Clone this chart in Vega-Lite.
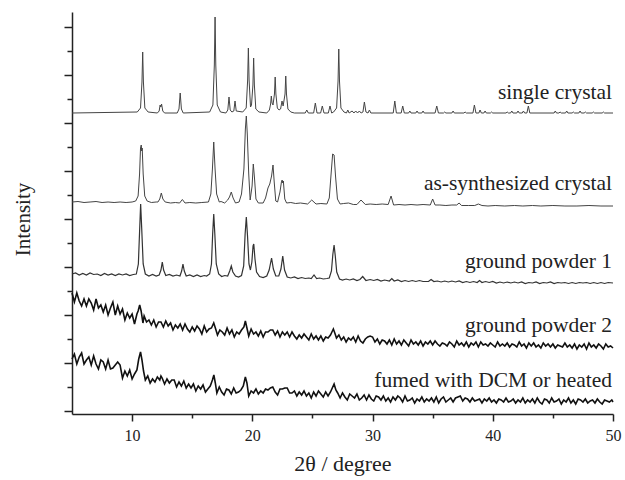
{
"$schema": "https://vega.github.io/schema/vega-lite/v6.json",
"autosize": "none",
"padding": {"left": 72, "top": 12, "right": 12, "bottom": 66},
"width": 541,
"height": 402,
"config": {"view": {"stroke": null}, "font": "Liberation Serif", "axis": {"labelFont": "Liberation Serif", "titleFont": "Liberation Serif"}, "text": {"font": "Liberation Serif"}},
"datasets": {
"labels": [
{"label": "single crystal", "x": 50, "y": 315.3},
{"label": "as-synthesized crystal", "x": 50, "y": 224.3},
{"label": "ground powder 1", "x": 50, "y": 145.7},
{"label": "ground powder 2", "x": 50, "y": 82.3},
{"label": "fumed with DCM or heated", "x": 50, "y": 27.3}
],
"sc": [
{"x":5.0,"y":301},{"x":10.43,"y":302},{"x":10.70,"y":306},{"x":10.82,"y":332},{"x":10.88,"y":362},{"x":10.94,"y":332},{"x":11.06,"y":306},{"x":11.33,"y":302},{"x":12.1,"y":301},{"x":12.25,"y":303},{"x":12.33,"y":309},{"x":12.39,"y":307},{"x":12.45,"y":310},{"x":12.55,"y":303},{"x":12.7,"y":301},{"x":13.75,"y":301},{"x":13.9,"y":305},{"x":14.0,"y":321},{"x":14.1,"y":305},{"x":14.25,"y":301},{"x":16.45,"y":302},{"x":16.72,"y":309},{"x":16.84,"y":349},{"x":16.9,"y":397},{"x":16.96,"y":349},{"x":17.08,"y":309},{"x":17.35,"y":302},{"x":17.8,"y":301},{"x":17.96,"y":304},{"x":18.06,"y":317},{"x":18.16,"y":304},{"x":18.3,"y":302},{"x":18.46,"y":303},{"x":18.56,"y":313},{"x":18.66,"y":303},{"x":19.2,"y":302},{"x":19.49,"y":306},{"x":19.61,"y":334},{"x":19.67,"y":366},{"x":19.73,"y":334},{"x":19.85,"y":307},{"x":19.93,"y":309},{"x":20.05,"y":329},{"x":20.11,"y":356},{"x":20.17,"y":329},{"x":20.29,"y":305},{"x":20.55,"y":302},{"x":21.2,"y":301},{"x":21.42,"y":304},{"x":21.52,"y":310},{"x":21.58,"y":318},{"x":21.64,"y":311},{"x":21.72,"y":309},{"x":21.84,"y":320},{"x":21.9,"y":337},{"x":21.96,"y":320},{"x":22.08,"y":306},{"x":22.22,"y":304},{"x":22.35,"y":305},{"x":22.47,"y":313},{"x":22.56,"y":308},{"x":22.72,"y":320},{"x":22.78,"y":338},{"x":22.84,"y":320},{"x":22.96,"y":305},{"x":23.2,"y":302},{"x":23.5,"y":301},{"x":24.4,"y":301},{"x":24.53,"y":304},{"x":24.66,"y":301},{"x":25.1,"y":301},{"x":25.24,"y":311},{"x":25.38,"y":301},{"x":25.68,"y":301},{"x":25.82,"y":308},{"x":25.96,"y":301},{"x":26.32,"y":301},{"x":26.46,"y":308},{"x":26.6,"y":301},{"x":26.76,"y":302},{"x":27.01,"y":306},{"x":27.13,"y":333},{"x":27.19,"y":365},{"x":27.25,"y":333},{"x":27.37,"y":306},{"x":27.62,"y":302},{"x":27.83,"y":301},{"x":27.94,"y":304},{"x":28.05,"y":301},{"x":28.3,"y":303},{"x":28.45,"y":301},{"x":28.6,"y":303},{"x":28.75,"y":301},{"x":28.9,"y":303},{"x":29.05,"y":301},{"x":29.2,"y":302},{"x":29.32,"y":312},{"x":29.45,"y":302},{"x":29.62,"y":301},{"x":29.74,"y":304},{"x":29.86,"y":301},{"x":31.72,"y":301},{"x":31.85,"y":313},{"x":31.98,"y":301},{"x":32.38,"y":301},{"x":32.51,"y":308},{"x":32.64,"y":301},{"x":33.0,"y":301},{"x":33.1,"y":303},{"x":33.2,"y":301},{"x":33.6,"y":301},{"x":33.7,"y":303},{"x":33.8,"y":301},{"x":34.1,"y":301},{"x":34.2,"y":303},{"x":34.3,"y":301},{"x":35.2,"y":301},{"x":35.34,"y":308},{"x":35.48,"y":301},{"x":35.9,"y":301},{"x":36.0,"y":302},{"x":36.1,"y":301},{"x":36.6,"y":301},{"x":36.7,"y":303},{"x":36.8,"y":301},{"x":37.6,"y":301},{"x":37.7,"y":302},{"x":37.8,"y":301},{"x":38.35,"y":301},{"x":38.47,"y":309},{"x":38.6,"y":301},{"x":38.84,"y":301},{"x":38.94,"y":304},{"x":39.05,"y":301},{"x":39.26,"y":301},{"x":39.36,"y":303},{"x":39.46,"y":301},{"x":39.8,"y":301},{"x":39.9,"y":302},{"x":40.0,"y":301},{"x":41.1,"y":301},{"x":41.2,"y":302},{"x":41.3,"y":301},{"x":41.48,"y":301},{"x":41.58,"y":303},{"x":41.68,"y":301},{"x":42.0,"y":301},{"x":42.1,"y":303},{"x":42.2,"y":301},{"x":42.45,"y":301},{"x":42.55,"y":303},{"x":42.65,"y":301},{"x":42.84,"y":301},{"x":42.96,"y":308},{"x":43.08,"y":301},{"x":45.1,"y":301},{"x":45.2,"y":303},{"x":45.3,"y":301},{"x":45.5,"y":301},{"x":45.6,"y":302},{"x":45.7,"y":301},{"x":46.05,"y":301},{"x":46.15,"y":303},{"x":46.25,"y":301},{"x":46.6,"y":301},{"x":46.7,"y":302},{"x":46.8,"y":301},{"x":47.16,"y":301},{"x":47.26,"y":303},{"x":47.36,"y":301},{"x":47.6,"y":301},{"x":47.7,"y":302},{"x":47.8,"y":301},{"x":48.27,"y":301},{"x":48.37,"y":302},{"x":48.47,"y":301},{"x":49.1,"y":301},{"x":49.2,"y":302},{"x":49.3,"y":301},{"x":50.0,"y":301}
],
"as": [
{"x":5.0,"y":212},{"x":5.5,"y":212.5},{"x":6.0,"y":211.5},{"x":6.5,"y":212},{"x":7.0,"y":212.5},{"x":7.5,"y":211.5},{"x":8.0,"y":212},{"x":8.5,"y":211.5},{"x":9.0,"y":212},{"x":9.5,"y":211.5},{"x":10.0,"y":212},{"x":10.3,"y":213},{"x":10.5,"y":218},{"x":10.62,"y":240},{"x":10.7,"y":266},{"x":10.76,"y":269},{"x":10.8,"y":263},{"x":10.84,"y":266},{"x":10.92,"y":240},{"x":11.05,"y":218},{"x":11.25,"y":213},{"x":11.6,"y":211.5},{"x":12.0,"y":212},{"x":12.15,"y":212},{"x":12.3,"y":215},{"x":12.43,"y":221},{"x":12.56,"y":215},{"x":12.75,"y":212},{"x":13.2,"y":211},{"x":13.6,"y":211.5},{"x":13.95,"y":211},{"x":14.18,"y":214.5},{"x":14.4,"y":211},{"x":14.8,"y":211.5},{"x":15.3,"y":211},{"x":15.8,"y":211.5},{"x":16.35,"y":212},{"x":16.55,"y":220},{"x":16.68,"y":245},{"x":16.79,"y":272},{"x":16.9,"y":245},{"x":17.03,"y":220},{"x":17.25,"y":212},{"x":17.4,"y":212.5},{"x":17.7,"y":211},{"x":17.95,"y":214},{"x":18.1,"y":217},{"x":18.25,"y":222},{"x":18.4,"y":216},{"x":18.6,"y":211},{"x":18.9,"y":212},{"x":19.1,"y":220},{"x":19.3,"y":245},{"x":19.42,"y":285},{"x":19.5,"y":298},{"x":19.58,"y":280},{"x":19.7,"y":240},{"x":19.82,"y":214},{"x":19.98,"y":228},{"x":20.08,"y":250},{"x":20.18,"y":236},{"x":20.3,"y":215},{"x":20.5,"y":211},{"x":20.9,"y":211},{"x":21.1,"y":216},{"x":21.3,"y":226},{"x":21.45,"y":230},{"x":21.6,"y":238},{"x":21.72,"y":249},{"x":21.82,"y":232},{"x":21.95,"y":213},{"x":22.1,"y":212},{"x":22.3,"y":222},{"x":22.42,"y":232},{"x":22.48,"y":234},{"x":22.53,"y":231},{"x":22.58,"y":233},{"x":22.7,"y":215},{"x":22.85,"y":211},{"x":23.2,"y":211.5},{"x":23.6,"y":210.5},{"x":24.0,"y":211},{"x":24.6,"y":210},{"x":24.94,"y":214},{"x":25.3,"y":210},{"x":25.7,"y":210.5},{"x":26.2,"y":210},{"x":26.4,"y":216},{"x":26.55,"y":240},{"x":26.68,"y":260},{"x":26.8,"y":259},{"x":26.92,"y":238},{"x":27.08,"y":215},{"x":27.3,"y":210},{"x":27.6,"y":210.5},{"x":28.0,"y":211},{"x":28.4,"y":209.5},{"x":28.7,"y":209.5},{"x":29.04,"y":214},{"x":29.4,"y":209.5},{"x":29.8,"y":210},{"x":30.3,"y":209.5},{"x":30.8,"y":210},{"x":31.3,"y":209.5},{"x":31.54,"y":218},{"x":31.75,"y":209},{"x":32.2,"y":209.5},{"x":32.7,"y":209},{"x":33.2,"y":209.5},{"x":33.7,"y":209},{"x":34.2,"y":209.5},{"x":34.8,"y":209},{"x":35.0,"y":215},{"x":35.2,"y":209},{"x":35.6,"y":209},{"x":36.1,"y":208.5},{"x":36.6,"y":209},{"x":37.0,"y":209},{"x":37.2,"y":211},{"x":37.4,"y":208.5},{"x":38.0,"y":208.5},{"x":38.5,"y":208.5},{"x":38.8,"y":210},{"x":39.1,"y":208.5},{"x":39.6,"y":208},{"x":40.2,"y":208.5},{"x":41.0,"y":208},{"x":41.8,"y":208.5},{"x":42.5,"y":208},{"x":43.3,"y":208.5},{"x":44.0,"y":208},{"x":45.0,"y":208.5},{"x":46.0,"y":208},{"x":47.0,"y":208},{"x":48.0,"y":208.5},{"x":49.0,"y":208},{"x":50.0,"y":208}
],
"g1": [
{"x":5.0,"y":140},{"x":5.3,"y":141},{"x":5.6,"y":139},{"x":5.9,"y":140.5},{"x":6.2,"y":139},{"x":6.5,"y":141},{"x":6.8,"y":139.5},{"x":7.1,"y":140},{"x":7.4,"y":138.5},{"x":7.7,"y":140.5},{"x":8.0,"y":139},{"x":8.3,"y":140},{"x":8.6,"y":138.5},{"x":8.9,"y":140},{"x":9.2,"y":139},{"x":9.5,"y":140},{"x":9.8,"y":138.5},{"x":10.1,"y":139.5},{"x":10.35,"y":140},{"x":10.52,"y":150},{"x":10.63,"y":185},{"x":10.71,"y":210},{"x":10.8,"y":185},{"x":10.92,"y":150},{"x":11.1,"y":140},{"x":11.4,"y":138},{"x":11.7,"y":139.5},{"x":12.0,"y":138},{"x":12.25,"y":139},{"x":12.4,"y":144},{"x":12.51,"y":152},{"x":12.62,"y":144},{"x":12.8,"y":138.5},{"x":13.1,"y":139.5},{"x":13.4,"y":138},{"x":13.7,"y":139},{"x":13.98,"y":138},{"x":14.12,"y":143},{"x":14.23,"y":150},{"x":14.34,"y":143},{"x":14.5,"y":138},{"x":14.8,"y":139},{"x":15.1,"y":137.5},{"x":15.4,"y":139},{"x":15.7,"y":137.5},{"x":16.0,"y":138.5},{"x":16.2,"y":138},{"x":16.45,"y":140},{"x":16.6,"y":150},{"x":16.7,"y":180},{"x":16.79,"y":200},{"x":16.88,"y":180},{"x":17.0,"y":150},{"x":17.2,"y":140},{"x":17.45,"y":137.5},{"x":17.7,"y":138.5},{"x":17.95,"y":138},{"x":18.12,"y":143},{"x":18.25,"y":148},{"x":18.38,"y":142},{"x":18.6,"y":138},{"x":18.85,"y":137},{"x":19.1,"y":138.5},{"x":19.28,"y":148},{"x":19.4,"y":180},{"x":19.5,"y":197},{"x":19.6,"y":178},{"x":19.72,"y":150},{"x":19.84,"y":144},{"x":19.96,"y":152},{"x":20.06,"y":168},{"x":20.12,"y":170},{"x":20.22,"y":155},{"x":20.35,"y":142},{"x":20.6,"y":137.5},{"x":20.9,"y":136.5},{"x":21.2,"y":138},{"x":21.4,"y":144},{"x":21.6,"y":156},{"x":21.75,"y":145},{"x":21.95,"y":138},{"x":22.2,"y":138},{"x":22.38,"y":145},{"x":22.53,"y":158},{"x":22.68,"y":144},{"x":22.9,"y":137},{"x":23.2,"y":136},{"x":23.5,"y":137},{"x":23.8,"y":135.5},{"x":24.1,"y":136.5},{"x":24.4,"y":135.5},{"x":24.7,"y":136},{"x":24.9,"y":135.5},{"x":25.13,"y":139},{"x":25.35,"y":135.5},{"x":25.6,"y":136},{"x":25.9,"y":135},{"x":26.2,"y":135.5},{"x":26.4,"y":136},{"x":26.58,"y":143},{"x":26.7,"y":160},{"x":26.8,"y":169},{"x":26.9,"y":158},{"x":27.02,"y":142},{"x":27.25,"y":135},{"x":27.5,"y":134},{"x":27.8,"y":135},{"x":28.1,"y":134},{"x":28.4,"y":135},{"x":28.7,"y":133.5},{"x":28.95,"y":134.5},{"x":29.18,"y":137.5},{"x":29.45,"y":133.5},{"x":29.8,"y":134.5},{"x":30.1,"y":133.5},{"x":30.4,"y":134.5},{"x":30.7,"y":133},{"x":31.0,"y":134},{"x":31.4,"y":133},{"x":31.6,"y":135.5},{"x":31.8,"y":133},{"x":32.1,"y":134},{"x":32.4,"y":132.5},{"x":32.7,"y":133.5},{"x":33.0,"y":132.5},{"x":33.3,"y":133.5},{"x":33.6,"y":132.5},{"x":33.9,"y":133.5},{"x":34.2,"y":132.5},{"x":34.65,"y":132.5},{"x":34.87,"y":134.5},{"x":35.1,"y":132.5},{"x":35.4,"y":133},{"x":35.7,"y":132},{"x":36.0,"y":133},{"x":36.3,"y":132},{"x":36.6,"y":133},{"x":36.9,"y":132},{"x":37.2,"y":133},{"x":37.5,"y":131.5},{"x":37.8,"y":132.5},{"x":38.1,"y":131.5},{"x":38.4,"y":132.5},{"x":38.7,"y":131.5},{"x":38.9,"y":133.5},{"x":39.1,"y":131.5},{"x":39.4,"y":132.5},{"x":39.7,"y":131.5},{"x":40.0,"y":132.5},{"x":40.3,"y":131},{"x":40.6,"y":132},{"x":40.9,"y":131},{"x":41.2,"y":132},{"x":41.5,"y":131},{"x":41.8,"y":132},{"x":42.1,"y":131},{"x":42.4,"y":132},{"x":42.7,"y":130.5},{"x":43.0,"y":131.5},{"x":43.3,"y":131},{"x":43.6,"y":132},{"x":43.9,"y":130.5},{"x":44.2,"y":131.5},{"x":44.5,"y":131},{"x":44.8,"y":132},{"x":45.1,"y":130.5},{"x":45.4,"y":131.5},{"x":45.7,"y":131},{"x":46.0,"y":131.5},{"x":46.3,"y":130.5},{"x":46.6,"y":131.5},{"x":46.9,"y":130.5},{"x":47.2,"y":131.5},{"x":47.5,"y":131},{"x":47.8,"y":131.5},{"x":48.1,"y":130.5},{"x":48.4,"y":131.5},{"x":48.7,"y":130.5},{"x":49.0,"y":131.5},{"x":49.3,"y":130.5},{"x":49.6,"y":131.5},{"x":50.0,"y":131}
],
"g2": [
{"x":5.0,"y":121},{"x":5.2,"y":112},{"x":5.4,"y":121},{"x":5.6,"y":113},{"x":5.8,"y":108},{"x":6.0,"y":115},{"x":6.2,"y":108},{"x":6.4,"y":115},{"x":6.6,"y":111},{"x":6.8,"y":104},{"x":7.0,"y":115},{"x":7.2,"y":106},{"x":7.4,"y":109},{"x":7.6,"y":102},{"x":7.8,"y":109},{"x":8.0,"y":99},{"x":8.2,"y":106},{"x":8.4,"y":112},{"x":8.6,"y":99},{"x":8.8,"y":108},{"x":9.0,"y":100},{"x":9.2,"y":105},{"x":9.4,"y":94},{"x":9.6,"y":101},{"x":9.8,"y":96},{"x":10.0,"y":100},{"x":10.2,"y":90},{"x":10.4,"y":100},{"x":10.5,"y":103},{"x":10.63,"y":109},{"x":10.75,"y":103},{"x":10.9,"y":91},{"x":11.0,"y":98},{"x":11.2,"y":92},{"x":11.4,"y":94},{"x":11.6,"y":89},{"x":11.8,"y":94},{"x":12.0,"y":87},{"x":12.2,"y":92},{"x":12.4,"y":92},{"x":12.6,"y":87},{"x":12.8,"y":93},{"x":13.0,"y":88},{"x":13.2,"y":91},{"x":13.4,"y":84},{"x":13.6,"y":89},{"x":13.8,"y":86},{"x":14.0,"y":90},{"x":14.2,"y":84},{"x":14.4,"y":90},{"x":14.6,"y":85},{"x":14.8,"y":82},{"x":15.0,"y":87},{"x":15.2,"y":83},{"x":15.4,"y":88},{"x":15.6,"y":85},{"x":15.8,"y":80},{"x":16.0,"y":88},{"x":16.2,"y":82},{"x":16.4,"y":85},{"x":16.6,"y":86},{"x":16.79,"y":91},{"x":16.95,"y":85},{"x":17.1,"y":79},{"x":17.3,"y":84},{"x":17.5,"y":82},{"x":17.7,"y":79},{"x":17.9,"y":86},{"x":18.1,"y":80},{"x":18.3,"y":84},{"x":18.5,"y":77},{"x":18.7,"y":82},{"x":18.9,"y":80},{"x":19.1,"y":84},{"x":19.3,"y":87},{"x":19.42,"y":93},{"x":19.55,"y":86},{"x":19.7,"y":78},{"x":19.9,"y":85},{"x":20.1,"y":80},{"x":20.3,"y":82},{"x":20.5,"y":78},{"x":20.7,"y":83},{"x":20.9,"y":77},{"x":21.1,"y":82},{"x":21.3,"y":82},{"x":21.5,"y":84},{"x":21.7,"y":84},{"x":21.9,"y":79},{"x":22.1,"y":83},{"x":22.3,"y":77},{"x":22.5,"y":82},{"x":22.7,"y":79},{"x":22.9,"y":82},{"x":23.1,"y":77},{"x":23.3,"y":82},{"x":23.5,"y":78},{"x":23.7,"y":75},{"x":23.9,"y":79},{"x":24.1,"y":76},{"x":24.3,"y":80},{"x":24.5,"y":77},{"x":24.7,"y":74},{"x":24.9,"y":80},{"x":25.1,"y":75},{"x":25.3,"y":78},{"x":25.5,"y":74},{"x":25.7,"y":78},{"x":25.9,"y":73},{"x":26.1,"y":77},{"x":26.3,"y":76},{"x":26.5,"y":79},{"x":26.62,"y":82},{"x":26.74,"y":85},{"x":26.86,"y":81},{"x":27.0,"y":76},{"x":27.2,"y":79},{"x":27.4,"y":74},{"x":27.6,"y":77},{"x":27.8,"y":72},{"x":28.0,"y":76},{"x":28.2,"y":74},{"x":28.4,"y":77},{"x":28.6,"y":72},{"x":28.8,"y":78},{"x":29.0,"y":73},{"x":29.2,"y":71},{"x":29.4,"y":75},{"x":29.6,"y":77},{"x":29.8,"y":78},{"x":30.0,"y":77},{"x":30.2,"y":72},{"x":30.4,"y":75},{"x":30.6,"y":70},{"x":30.8,"y":74},{"x":31.0,"y":73},{"x":31.2,"y":70},{"x":31.4,"y":74},{"x":31.6,"y":69},{"x":31.8,"y":75},{"x":32.0,"y":70},{"x":32.2,"y":73},{"x":32.4,"y":69},{"x":32.6,"y":74},{"x":32.8,"y":71},{"x":33.0,"y":68},{"x":33.2,"y":74},{"x":33.4,"y":70},{"x":33.6,"y":72},{"x":33.8,"y":69},{"x":34.0,"y":73},{"x":34.2,"y":68},{"x":34.4,"y":72},{"x":34.6,"y":70},{"x":34.8,"y":73},{"x":35.0,"y":69},{"x":35.2,"y":73},{"x":35.4,"y":70},{"x":35.6,"y":68},{"x":35.8,"y":71},{"x":36.0,"y":70},{"x":36.2,"y":68},{"x":36.4,"y":72},{"x":36.6,"y":70},{"x":36.8,"y":67},{"x":37.0,"y":73},{"x":37.2,"y":69},{"x":37.4,"y":71},{"x":37.6,"y":68},{"x":37.8,"y":72},{"x":38.0,"y":67},{"x":38.2,"y":71},{"x":38.4,"y":69},{"x":38.6,"y":72},{"x":38.8,"y":67},{"x":39.0,"y":72},{"x":39.2,"y":69},{"x":39.4,"y":70},{"x":39.6,"y":68},{"x":39.8,"y":71},{"x":40.0,"y":69},{"x":40.2,"y":67},{"x":40.4,"y":72},{"x":40.6,"y":68},{"x":40.8,"y":70},{"x":41.0,"y":68},{"x":41.2,"y":71},{"x":41.4,"y":67},{"x":41.6,"y":70},{"x":41.8,"y":69},{"x":42.0,"y":67},{"x":42.2,"y":72},{"x":42.4,"y":68},{"x":42.6,"y":70},{"x":42.8,"y":66},{"x":43.0,"y":71},{"x":43.2,"y":68},{"x":43.4,"y":71},{"x":43.6,"y":67},{"x":43.8,"y":69},{"x":44.0,"y":66},{"x":44.2,"y":71},{"x":44.4,"y":68},{"x":44.6,"y":70},{"x":44.8,"y":67},{"x":45.0,"y":70},{"x":45.2,"y":66},{"x":45.4,"y":69},{"x":45.6,"y":68},{"x":45.8,"y":67},{"x":46.0,"y":71},{"x":46.2,"y":67},{"x":46.4,"y":69},{"x":46.6,"y":66},{"x":46.8,"y":70},{"x":47.0,"y":65},{"x":47.2,"y":69},{"x":47.4,"y":67},{"x":47.6,"y":70},{"x":47.8,"y":65},{"x":48.0,"y":71},{"x":48.2,"y":67},{"x":48.4,"y":69},{"x":48.6,"y":66},{"x":48.8,"y":70},{"x":49.0,"y":68},{"x":49.2,"y":65},{"x":49.4,"y":70},{"x":49.6,"y":67},{"x":49.8,"y":68},{"x":50.0,"y":66}
],
"fu": [
{"x":5.0,"y":55},{"x":5.2,"y":60},{"x":5.4,"y":50},{"x":5.6,"y":57},{"x":5.8,"y":61},{"x":6.0,"y":50},{"x":6.2,"y":54},{"x":6.4,"y":57},{"x":6.6,"y":49},{"x":6.8,"y":58},{"x":7.0,"y":50},{"x":7.2,"y":45},{"x":7.4,"y":54},{"x":7.6,"y":52},{"x":7.8,"y":45},{"x":8.0,"y":54},{"x":8.2,"y":45},{"x":8.4,"y":46},{"x":8.6,"y":49},{"x":8.8,"y":52},{"x":9.0,"y":49},{"x":9.2,"y":36},{"x":9.4,"y":43},{"x":9.6,"y":38},{"x":9.8,"y":44},{"x":10.0,"y":35},{"x":10.2,"y":40},{"x":10.4,"y":44},{"x":10.55,"y":55},{"x":10.7,"y":62},{"x":10.82,"y":54},{"x":10.95,"y":43},{"x":11.1,"y":34},{"x":11.3,"y":38},{"x":11.5,"y":31},{"x":11.7,"y":35},{"x":11.9,"y":32},{"x":12.1,"y":37},{"x":12.3,"y":34},{"x":12.4,"y":38},{"x":12.5,"y":36},{"x":12.7,"y":30},{"x":12.9,"y":35},{"x":13.1,"y":31},{"x":13.3,"y":34},{"x":13.5,"y":34},{"x":13.7,"y":27},{"x":13.9,"y":32},{"x":14.1,"y":28},{"x":14.3,"y":33},{"x":14.5,"y":26},{"x":14.7,"y":30},{"x":14.9,"y":26},{"x":15.1,"y":30},{"x":15.3,"y":23},{"x":15.5,"y":28},{"x":15.7,"y":25},{"x":15.9,"y":29},{"x":16.1,"y":22},{"x":16.3,"y":25},{"x":16.5,"y":28},{"x":16.68,"y":34},{"x":16.8,"y":39},{"x":16.92,"y":31},{"x":17.05,"y":21},{"x":17.25,"y":27},{"x":17.45,"y":22},{"x":17.65,"y":19},{"x":17.85,"y":25},{"x":18.05,"y":24},{"x":18.25,"y":20},{"x":18.45,"y":26},{"x":18.65,"y":21},{"x":18.85,"y":22},{"x":19.05,"y":24},{"x":19.25,"y":28},{"x":19.42,"y":37},{"x":19.55,"y":31},{"x":19.7,"y":18},{"x":19.9,"y":23},{"x":20.1,"y":21},{"x":20.3,"y":25},{"x":20.5,"y":20},{"x":20.7,"y":23},{"x":20.9,"y":21},{"x":21.1,"y":25},{"x":21.3,"y":24},{"x":21.5,"y":26},{"x":21.7,"y":27},{"x":21.9,"y":22},{"x":22.1,"y":19},{"x":22.3,"y":25},{"x":22.5,"y":25},{"x":22.7,"y":26},{"x":22.9,"y":26},{"x":23.1,"y":21},{"x":23.3,"y":21},{"x":23.5,"y":23},{"x":23.7,"y":18},{"x":23.9,"y":22},{"x":24.1,"y":19},{"x":24.3,"y":23},{"x":24.5,"y":18},{"x":24.7,"y":21},{"x":24.9,"y":16},{"x":25.1,"y":22},{"x":25.3,"y":18},{"x":25.5,"y":23},{"x":25.7,"y":20},{"x":25.9,"y":17},{"x":26.1,"y":22},{"x":26.3,"y":18},{"x":26.5,"y":22},{"x":26.65,"y":26},{"x":26.8,"y":30},{"x":26.95,"y":24},{"x":27.1,"y":21},{"x":27.3,"y":16},{"x":27.5,"y":21},{"x":27.7,"y":17},{"x":27.9,"y":14},{"x":28.1,"y":20},{"x":28.3,"y":18},{"x":28.5,"y":16},{"x":28.7,"y":20},{"x":28.9,"y":14},{"x":29.1,"y":16},{"x":29.3,"y":19},{"x":29.5,"y":14},{"x":29.7,"y":19},{"x":29.9,"y":15},{"x":30.1,"y":13},{"x":30.3,"y":18},{"x":30.5,"y":17},{"x":30.7,"y":14},{"x":30.9,"y":18},{"x":31.1,"y":13},{"x":31.3,"y":16},{"x":31.5,"y":12},{"x":31.7,"y":17},{"x":31.9,"y":14},{"x":32.1,"y":18},{"x":32.3,"y":16},{"x":32.5,"y":12},{"x":32.7,"y":18},{"x":32.9,"y":13},{"x":33.1,"y":14},{"x":33.3,"y":16},{"x":33.5,"y":11},{"x":33.7,"y":15},{"x":33.9,"y":13},{"x":34.1,"y":17},{"x":34.3,"y":12},{"x":34.5,"y":15},{"x":34.7,"y":13},{"x":34.9,"y":16},{"x":35.1,"y":12},{"x":35.3,"y":17},{"x":35.5,"y":11},{"x":35.7,"y":15},{"x":35.9,"y":17},{"x":36.1,"y":12},{"x":36.3,"y":14},{"x":36.5,"y":16},{"x":36.7,"y":12},{"x":36.9,"y":16},{"x":37.1,"y":17},{"x":37.3,"y":18},{"x":37.5,"y":13},{"x":37.7,"y":16},{"x":37.9,"y":15},{"x":38.1,"y":12},{"x":38.3,"y":16},{"x":38.5,"y":13},{"x":38.7,"y":14},{"x":38.9,"y":15},{"x":39.1,"y":11},{"x":39.3,"y":15},{"x":39.5,"y":13},{"x":39.7,"y":16},{"x":39.9,"y":12},{"x":40.1,"y":14},{"x":40.3,"y":11},{"x":40.5,"y":15},{"x":40.7,"y":14},{"x":40.9,"y":12},{"x":41.1,"y":16},{"x":41.3,"y":12},{"x":41.5,"y":13},{"x":41.7,"y":15},{"x":41.9,"y":11},{"x":42.1,"y":14},{"x":42.3,"y":12},{"x":42.5,"y":16},{"x":42.7,"y":11},{"x":42.9,"y":14},{"x":43.1,"y":12},{"x":43.3,"y":15},{"x":43.5,"y":11},{"x":43.7,"y":16},{"x":43.9,"y":12},{"x":44.1,"y":10},{"x":44.3,"y":15},{"x":44.5,"y":14},{"x":44.7,"y":11},{"x":44.9,"y":16},{"x":45.1,"y":12},{"x":45.3,"y":13},{"x":45.5,"y":15},{"x":45.7,"y":10},{"x":45.9,"y":14},{"x":46.1,"y":12},{"x":46.3,"y":16},{"x":46.5,"y":11},{"x":46.7,"y":14},{"x":46.9,"y":10},{"x":47.1,"y":15},{"x":47.3,"y":14},{"x":47.5,"y":12},{"x":47.7,"y":15},{"x":47.9,"y":11},{"x":48.1,"y":13},{"x":48.3,"y":14},{"x":48.5,"y":11},{"x":48.7,"y":15},{"x":48.9,"y":12},{"x":49.1,"y":10},{"x":49.3,"y":14},{"x":49.5,"y":13},{"x":49.7,"y":12},{"x":49.9,"y":14},{"x":50.0,"y":12}
]
},
"encoding": {
"x": {"field": "x", "type": "quantitative", "scale": {"domain": [5, 50], "nice": false, "zero": false},
 "axis": {"title": "2θ / degree", "values": [10, 15, 20, 25, 30, 35, 40, 45, 50], "grid": false,
  "labelExpr": "datum.value % 10 === 0 ? datum.label : ''",
  "tickSize": {"condition": {"test": "datum.value % 10 === 0", "value": 7}, "value": 4},
  "tickColor": "#222", "tickWidth": 1.5, "domainColor": "#222", "domainWidth": 1.5,
  "labelFont": "Liberation Serif", "labelFontSize": 16, "labelColor": "#222", "labelPadding": 6, "labelFlush": false,
  "titleFont": "Liberation Serif", "titleFontSize": 22, "titleFontWeight": "normal", "titleColor": "#222",
  "titleBaseline": "alphabetic", "titleY": 56}},
"y": {"field": "y", "type": "quantitative", "scale": {"domain": [0, 402], "nice": false, "zero": false},
 "axis": {"title": "Intensity", "values": [3, 27, 51, 75, 99, 123, 147, 171, 195, 219, 243, 267, 291, 315, 339, 363, 387], "grid": false, "labels": false,
  "tickSize": {"condition": {"test": "(datum.value - 3) % 48 === 0", "value": 8}, "value": 5},
  "tickColor": "#222", "tickWidth": 1.5, "domainColor": "#222", "domainWidth": 1.5,
  "titleFont": "Liberation Serif", "titleFontSize": 21, "titleFontWeight": "normal", "titleColor": "#222",
  "titleAngle": -90, "titleAlign": "center", "titleBaseline": "alphabetic", "titleX": -43, "titleY": 207}}
},
"layer": [
{"data": {"name": "sc"}, "mark": {"type": "line", "color": "#444", "strokeWidth": 1}},
{"data": {"name": "as"}, "mark": {"type": "line", "color": "#444", "strokeWidth": 1}},
{"data": {"name": "g1"}, "mark": {"type": "line", "color": "#333", "strokeWidth": 1.2}},
{"data": {"name": "g2"}, "mark": {"type": "line", "color": "#111", "strokeWidth": 1.6}},
{"data": {"name": "fu"}, "mark": {"type": "line", "color": "#111", "strokeWidth": 1.6}},
{"data": {"name": "labels"}, "mark": {"type": "text", "align": "right", "baseline": "alphabetic", "dx": -1, "font": "Liberation Serif", "fontSize": 21.5, "color": "#222"},
 "encoding": {"text": {"field": "label", "type": "nominal"}}}
]
}
